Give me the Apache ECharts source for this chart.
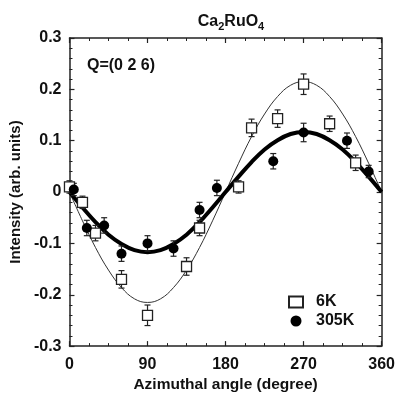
<!DOCTYPE html>
<html><head><meta charset="utf-8">
<script src="https://cdn.jsdelivr.net/npm/echarts@6/dist/echarts.min.js"></script>
<style>html,body{margin:0;padding:0;background:#fff}#c{width:398px;height:398px}</style>
</head><body><div id="c"></div>
<script>
// Measured data
const angles6K = [0, 15, 30, 60, 90, 135, 150, 195, 210, 240, 270, 300, 330];
const values6K = [0.01, -0.02, -0.08, -0.17, -0.24, -0.145, -0.07, 0.01, 0.125, 0.143, 0.21, 0.133, 0.057];
const errors6K = [0.012, 0.012, 0.015, 0.017, 0.02, 0.017, 0.015, 0.012, 0.017, 0.017, 0.02, 0.015, 0.015];

const angles305K = [5, 20, 40, 60, 90, 120, 150, 170, 235, 270, 320, 345];
const values305K = [0.005, -0.07, -0.065, -0.12, -0.1, -0.11, -0.035, 0.008, 0.06, 0.116, 0.1, 0.04];
const errors305K = [0.012, 0.015, 0.015, 0.015, 0.015, 0.015, 0.015, 0.015, 0.015, 0.018, 0.015, 0.012];

// Fit curves
const fitAngles = [0,15,30,45,60,75,90,105,120,135,150,165,180,195,210,225,240,255,270,285,300,315,330,345,360];
const fit6K = [0,-0.056,-0.108,-0.152,-0.186,-0.208,-0.215,-0.208,-0.186,-0.152,-0.108,-0.056,0,0.056,0.108,0.152,0.186,0.208,0.215,0.208,0.186,0.152,0.108,0.056,0];
const fit305K = [0,-0.030,-0.0585,-0.083,-0.101,-0.113,-0.117,-0.113,-0.101,-0.083,-0.0585,-0.030,0,0.030,0.0585,0.083,0.101,0.113,0.117,0.113,0.101,0.083,0.0585,0.030,0];

const xTicks = [0, 90, 180, 270, 360];
const yTicks = [-0.3, -0.2, -0.1, 0, 0.1, 0.2, 0.3];

const FONT = 'Liberation Sans';
const zip = (a, b) => a.map((v, i) => [v, b[i]]);

function errBar(angles, vals, errs) {
  return {
    type: 'custom', silent: true, z: 3,
    data: angles.map((a, i) => [a, vals[i], errs[i]]),
    renderItem: function (params, api) {
      const x = api.value(0), y = api.value(1), e = api.value(2);
      const top = api.coord([x, y + e]);
      const bot = api.coord([x, y - e]);
      const cw = 3;
      const st = { stroke: '#222', lineWidth: 1.2 };
      return { type: 'group', children: [
        { type: 'line', shape: { x1: top[0], y1: top[1], x2: bot[0], y2: bot[1] }, style: st },
        { type: 'line', shape: { x1: top[0]-cw, y1: top[1], x2: top[0]+cw, y2: top[1] }, style: st },
        { type: 'line', shape: { x1: bot[0]-cw, y1: bot[1], x2: bot[0]+cw, y2: bot[1] }, style: st }
      ]};
    }
  };
}

const chart = echarts.init(document.getElementById('c'));
const axisLabelStyle = { color: '#111', fontFamily: FONT, fontSize: 16, fontWeight: 'bold' };
const lineSt = { color: '#222', width: 1.5 };
chart.setOption({
  animation: false,
  backgroundColor: '#fff',
  title: {
    text: '{n|Ca}{s|2}{n|RuO}{s|4}',
    left: 226, top: 7, textAlign: 'center',
    textStyle: { rich: {
      n: { fontFamily: FONT, fontSize: 16, fontWeight: 'bold', color: '#111' },
      s: { fontFamily: FONT, fontSize: 11, fontWeight: 'bold', color: '#111', verticalAlign: 'bottom', padding: [9, 0, 0, 0] }
    } }
  },
  graphic: [{
    type: 'text', left: 87, top: 58,
    style: { text: 'Q=(0 2 6)', fontFamily: FONT, fontSize: 16, fontWeight: 'bold', fill: '#111' }
  }],
  legend: {
    orient: 'vertical', left: 283, top: 289, itemGap: 3, itemWidth: 14, itemHeight: 11,
    data: ['6K', '305K'],
    textStyle: { fontFamily: FONT, fontSize: 16, fontWeight: 'bold', color: '#111', padding: [0, 0, 0, 8] }
  },
  grid: { left: 68, right: 14, top: 38, bottom: 49 },
  xAxis: [{
    type: 'value', min: 0, max: 360, interval: 90, position: 'bottom',
    name: 'Azimuthal angle (degree)', nameLocation: 'middle', nameGap: 23,
    nameTextStyle: { fontFamily: FONT, fontSize: 15.5, fontWeight: 'bold', color: '#111' },
    axisLine: { onZero: false, lineStyle: lineSt },
    axisTick: { inside: true, length: 5, lineStyle: { color: '#222', width: 1.2 } },
    minorTick: { show: true, splitNumber: 4, length: 3, lineStyle: { color: '#222' } },
    axisLabel: Object.assign({ margin: 10, formatter: v => xTicks.includes(v) ? String(v) : '' }, axisLabelStyle),
    splitLine: { show: false }
  }, {
    type: 'value', min: 0, max: 360, interval: 90, position: 'top',
    axisLine: { onZero: false, lineStyle: lineSt },
    axisTick: { inside: true, length: 5, lineStyle: { color: '#222', width: 1.2 } },
    minorTick: { show: true, splitNumber: 4, length: 3, lineStyle: { color: '#222' } },
    axisLabel: { show: false }, splitLine: { show: false }
  }],
  yAxis: [{
    type: 'value', min: -0.3, max: 0.3, interval: 0.1, position: 'left',
    name: 'Intensity (arb. units)', nameLocation: 'middle', nameGap: 43,
    nameTextStyle: { fontFamily: FONT, fontSize: 15, fontWeight: 'bold', color: '#111' },
    axisLine: { onZero: false, lineStyle: lineSt },
    axisTick: { inside: true, length: 5, lineStyle: { color: '#222', width: 1.2 } },
    minorTick: { show: true, splitNumber: 5, length: 3, lineStyle: { color: '#222' } },
    axisLabel: Object.assign({ margin: 8, formatter: v => { const r = Math.round(v * 10) / 10; return r === 0 ? '0' : r.toFixed(1); } }, axisLabelStyle),
    splitLine: { show: false }
  }, {
    type: 'value', min: -0.3, max: 0.3, interval: 0.1, position: 'right',
    axisLine: { show: true, onZero: false, lineStyle: lineSt },
    axisTick: { show: true, inside: true, length: 5, lineStyle: { color: '#222', width: 1.2 } },
    minorTick: { show: true, splitNumber: 5, length: 3, lineStyle: { color: '#222' } },
    axisLabel: { show: false }, splitLine: { show: false }
  }],
  series: [
    { name: 'fit6K', type: 'line', data: zip(fitAngles, fit6K), smooth: 0.4, symbol: 'none',
      lineStyle: { color: '#333', width: 1 }, z: 2 },
    { name: 'fit305K', type: 'line', data: zip(fitAngles, fit305K), smooth: 0.4, symbol: 'none',
      lineStyle: { color: '#000', width: 4 }, z: 2 },
    errBar(angles6K, values6K, errors6K),
    errBar(angles305K, values305K, errors305K),
    { name: '6K', type: 'scatter', data: zip(angles6K, values6K), symbol: 'rect', symbolSize: 10,
      itemStyle: { color: '#fff', borderColor: '#222', borderWidth: 1.3, opacity: 1 }, z: 5 },
    { name: '305K', type: 'scatter', data: zip(angles305K, values305K), symbol: 'circle', symbolSize: 10,
      itemStyle: { color: '#000', opacity: 1 }, z: 5 }
  ]
});
</script></body></html>
